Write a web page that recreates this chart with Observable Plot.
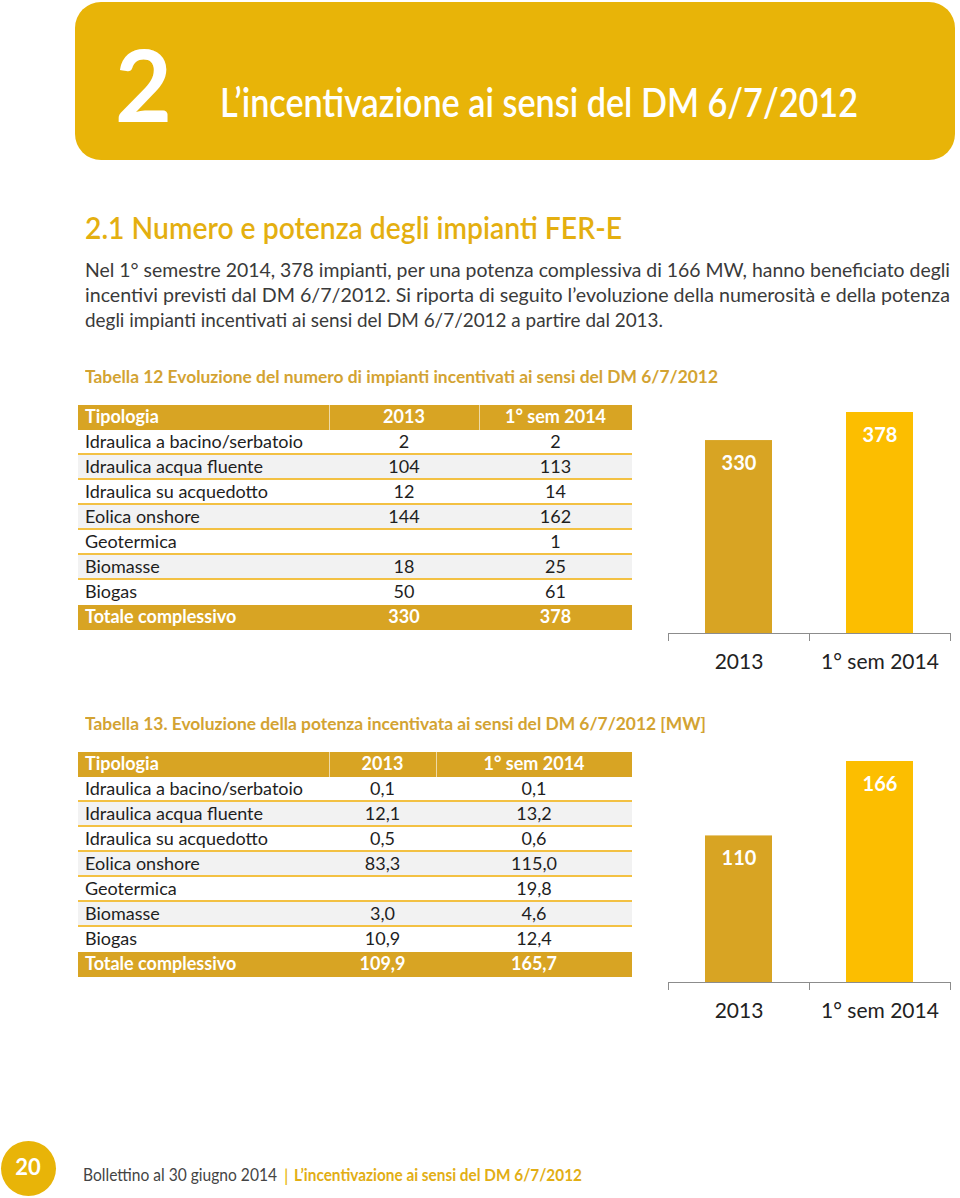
<!DOCTYPE html>
<html><head><meta charset="utf-8">
<script src="https://cdn.jsdelivr.net/npm/d3@7"></script>
<script src="https://cdn.jsdelivr.net/npm/@observablehq/plot@0.6"></script>
<style>
body{margin:0;width:960px;height:1198px;position:relative;background:#fff;font-family:Lato,"Open Sans",sans-serif;overflow:hidden}
.t{position:absolute;white-space:nowrap;display:inline-block;transform-origin:0 50%}
.box{position:absolute}
.chart{position:absolute}
</style></head><body>
<script>
// ---------- data ----------
const chapterNumber = "2";
const chapterTitle = "L\u2019incentivazione ai sensi del DM 6/7/2012";
const sectionTitle = "2.1 Numero e potenza degli impianti FER-E";
const introLines = [
  "Nel 1\u00b0 semestre 2014, 378 impianti, per una potenza complessiva di 166 MW, hanno beneficiato degli",
  "incentivi previsti dal DM 6/7/2012. Si riporta di seguito l\u2019evoluzione della numerosit\u00e0 e della potenza",
  "degli impianti incentivati ai sensi del DM 6/7/2012 a partire dal 2013."
];
const caption12 = "Tabella 12 Evoluzione del numero di impianti incentivati ai sensi del DM 6/7/2012";
const caption13 = "Tabella 13. Evoluzione della potenza incentivata ai sensi del DM 6/7/2012 [MW]";
const headers = ["Tipologia", "2013", "1\u00b0 sem 2014"];
const tipologie = ["Idraulica a bacino/serbatoio","Idraulica acqua fluente","Idraulica su acquedotto","Eolica onshore","Geotermica","Biomasse","Biogas"];
const totaleLabel = "Totale complessivo";
const numero2013 = ["2","104","12","144","","18","50"];
const numero2014 = ["2","113","14","162","1","25","61"];
const numeroTot = ["330","378"];
const potenza2013 = ["0,1","12,1","0,5","83,3","","3,0","10,9"];
const potenza2014 = ["0,1","13,2","0,6","115,0","19,8","4,6","12,4"];
const potenzaTot = ["109,9","165,7"];
const periodi = ["2013","1\u00b0 sem 2014"];
const numeroBars = [330, 378];
const potenzaBars = [109.9, 165.7];
const pageNumber = "20";
const footerLeft = "Bollettino al 30 giugno 2014";
const footerRight = "L\u2019incentivazione ai sensi del DM 6/7/2012";

// ---------- style ----------
const GOLD = "#E8B408", DARKGOLD = "#D8A423", LINEGOLD = "#F3C143", CAPGOLD = "#D3A332";
const BAR_COLORS = ["#D8A423", "#FCBE00"];

const body = document.body;
const fitList = [];
function box(x, y, w, h, bg, extra) {
  const d = document.createElement("div");
  d.className = "box";
  Object.assign(d.style, {left: x+"px", top: y+"px", width: w+"px", height: h+"px", background: bg}, extra || {});
  body.appendChild(d); return d;
}
function txt(s, x, y, size, opts) {
  opts = opts || {};
  const d = document.createElement("div");
  d.className = "t";
  d.textContent = s;
  Object.assign(d.style, {left: x+"px", top: (y - size*0.63)+"px", fontSize: size+"px", lineHeight: (size*1.2)+"px",
    fontWeight: opts.weight || 400, color: opts.color || "#333"});
  if (opts.center) { d.style.transform = "translateX(-50%)"; d.style.transformOrigin = "50% 50%"; }
  body.appendChild(d);
  if (opts.w) fitList.push([d, opts.w]);
  return d;
}

// header band
box(75, 2, 880, 158, GOLD, {borderRadius: "26px"});
txt(chapterNumber, 115, 86, 100, {weight: 700, color: "#fff", w: 57});
txt(chapterTitle, 220, 103, 40, {weight: 600, color: "#fff", w: 638});

// section
txt(sectionTitle, 85, 228, 30, {weight: 600, color: "#E4AF10", w: 537});
introLines.forEach((l, i) => txt(l, 85, 271 + i*25, 19, {color: "#3a3a3a", w: i < 2 ? 865 : 578}));

// tables
function table(top, cols, caption, capW, v13, v14, tot) {
  txt(caption, 85, top - 27, 16.5, {weight: 700, color: CAPGOLD, w: capW});
  const x0 = cols[0], W = cols[3] - cols[0], RH = 25;
  const rows = [[headers[0], headers[1], headers[2], "head"]]
    .concat(tipologie.map((t, i) => [t, v13[i], v14[i], i]))
    .concat([[totaleLabel, tot[0], tot[1], "tot"]]);
  rows.forEach((r, k) => {
    const y = top + k*RH;
    const kind = r[3];
    let bg = "#fff";
    if (kind === "head" || kind === "tot") bg = DARKGOLD;
    else if (kind % 2 === 1) bg = "#F2F2F2";
    box(x0, y, W, RH, bg);
    if (typeof kind === "number" && kind < 6) box(x0, y + RH - 2, W, 2, LINEGOLD);
    if (kind === "head") { box(cols[1], y, 1, RH, "rgba(255,255,255,0.6)"); box(cols[2], y, 1, RH, "rgba(255,255,255,0.6)"); }
    const strong = kind === "head" || kind === "tot";
    const col = strong ? "#fff" : "#1e1e1e";
    const wt = strong ? 700 : 400;
    txt(r[0], x0 + 7, y + 12.5, 18, {weight: wt, color: col});
    txt(r[1], (cols[1]+cols[2])/2, y + 12.5, 18, {weight: wt, color: col, center: true});
    txt(r[2], (cols[2]+cols[3])/2, y + 12.5, 18, {weight: wt, color: col, center: true});
  });
}
table(405, [78, 329, 479, 632], caption12, 633, numero2013, numero2014, numeroTot);
table(752, [78, 329, 436, 632], caption13, 621, potenza2013, potenza2014, potenzaTot);

// bar charts
function barChart(values, left, top) {
  const data = periodi.map((p, i) => ({i, p, v: values[i], c: BAR_COLORS[i]}));
  const fmt = d3.format(".0f");
  const chart = Plot.plot({
    width: 300, height: 280,
    marginLeft: 8, marginRight: 10, marginTop: 12, marginBottom: 47,
    style: {fontFamily: "Lato, sans-serif", color: "#8c8c8c", background: "transparent", overflow: "visible"},
    x: {domain: [0, periodi.length], axis: null},
    y: {domain: [0, d3.max(values)], axis: null},
    marks: [
      Plot.rectY(data, {x1: d => d.i, x2: d => d.i + 1, y: "v", fill: "c", insetLeft: 37, insetRight: 37}),
      Plot.ruleY([0], {stroke: "#8c8c8c", strokeWidth: 1}),
      Plot.axisX({ticks: d3.range(periodi.length + 1), tickSize: 8, tickFormat: () => "", stroke: "#8c8c8c"}),
      Plot.text(data, {x: d => d.i + 0.5, y: "v", text: d => fmt(d.v), dy: 23, fill: "#fff", fontWeight: "bold", fontSize: 20}),
      Plot.text(data, {x: d => d.i + 0.5, y: 0, text: "p", dy: 29, fill: "#222", fontSize: 21})
    ]
  });
  chart.classList.add("chart");
  chart.style.left = left + "px"; chart.style.top = top + "px";
  body.appendChild(chart);
}
barChart(numeroBars, 660, 400);
barChart(potenzaBars, 660, 749);

// footer
box(1, 1141, 55, 55, GOLD, {borderRadius: "50%"});
txt(pageNumber, 28, 1168, 22, {weight: 700, color: "#fff", center: true});
txt(footerLeft, 83, 1176, 17, {color: "#444", w: 194});
txt("|", 284, 1176, 18, {color: GOLD});
txt(footerRight, 294, 1176, 17, {weight: 700, color: "#E2AE14", w: 288});

function fit() {
  fitList.forEach(([el, w]) => {
    el.style.transform = "none";
    const cw = el.getBoundingClientRect().width;
    el.style.transform = `scaleX(${w / cw})`;
  });
}
fit();
if (document.fonts && document.fonts.ready) document.fonts.ready.then(fit);
</script>
</body></html>
